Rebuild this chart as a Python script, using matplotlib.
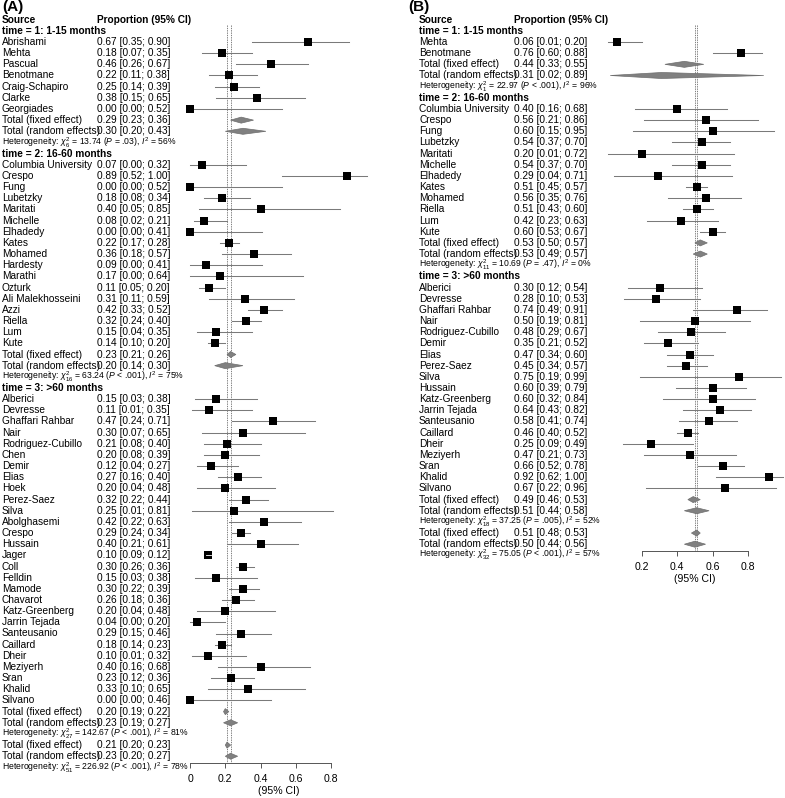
import matplotlib
matplotlib.use("Agg")
import matplotlib.pyplot as plt
from matplotlib.transforms import blended_transform_factory
from matplotlib.patches import Polygon

plt.rcParams['font.family'] = ['Liberation Sans', 'DejaVu Sans']
plt.rcParams['mathtext.fontset'] = 'custom'
plt.rcParams['mathtext.rm'] = 'Liberation Sans'
plt.rcParams['mathtext.it'] = 'Liberation Sans:italic'
plt.rcParams['mathtext.bf'] = 'Liberation Sans:bold'

groups = ["time = 1: 1-15 months", "time = 2: 16-60 months", "time = 3: >60 months"]

# ---- panel A ----
a_names = [
    ["Abrishami", "Mehta", "Pascual", "Benotmane", "Craig-Schapiro", "Clarke", "Georgiades"],
    ["Columbia University", "Crespo", "Fung", "Lubetzky", "Maritati", "Michelle", "Elhadedy",
     "Kates", "Mohamed", "Hardesty", "Marathi", "Ozturk", "Ali Malekhosseini", "Azzi", "Riella",
     "Lum", "Kute"],
    ["Alberici", "Devresse", "Ghaffari Rahbar", "Nair", "Rodriguez-Cubillo", "Chen", "Demir",
     "Elias", "Hoek", "Perez-Saez", "Silva", "Abolghasemi", "Crespo", "Hussain", "Jager", "Coll",
     "Felldin", "Mamode", "Chavarot", "Katz-Greenberg", "Jarrin Tejada", "Santeusanio",
     "Caillard", "Dheir", "Meziyerh", "Sran", "Khalid", "Silvano"],
]
a_est = [
    [0.67, 0.18, 0.46, 0.22, 0.25, 0.38, 0.00],
    [0.07, 0.89, 0.00, 0.18, 0.40, 0.08, 0.00, 0.22, 0.36, 0.09, 0.17, 0.11, 0.31, 0.42, 0.32,
     0.15, 0.14],
    [0.15, 0.11, 0.47, 0.30, 0.21, 0.20, 0.12, 0.27, 0.20, 0.32, 0.25, 0.42, 0.29, 0.40, 0.10,
     0.30, 0.15, 0.30, 0.26, 0.20, 0.04, 0.29, 0.18, 0.10, 0.40, 0.23, 0.33, 0.00],
]
a_lo = [
    [0.35, 0.07, 0.26, 0.11, 0.14, 0.15, 0.00],
    [0.00, 0.52, 0.00, 0.08, 0.05, 0.02, 0.00, 0.17, 0.18, 0.00, 0.00, 0.05, 0.11, 0.33, 0.24,
     0.04, 0.10],
    [0.03, 0.01, 0.24, 0.07, 0.08, 0.08, 0.04, 0.16, 0.04, 0.22, 0.01, 0.22, 0.24, 0.21, 0.09,
     0.26, 0.03, 0.22, 0.18, 0.04, 0.00, 0.15, 0.14, 0.01, 0.16, 0.12, 0.10, 0.00],
]
a_hi = [
    [0.90, 0.35, 0.67, 0.38, 0.39, 0.65, 0.52],
    [0.32, 1.00, 0.52, 0.34, 0.85, 0.21, 0.41, 0.28, 0.57, 0.41, 0.64, 0.20, 0.59, 0.52, 0.40,
     0.35, 0.20],
    [0.38, 0.35, 0.71, 0.65, 0.40, 0.39, 0.27, 0.40, 0.48, 0.44, 0.81, 0.63, 0.34, 0.61, 0.12,
     0.36, 0.38, 0.39, 0.36, 0.48, 0.20, 0.46, 0.23, 0.32, 0.68, 0.36, 0.65, 0.46],
]
# subgroups 1-3, then overall
a_fix = [(0.29, 0.23, 0.36), (0.23, 0.21, 0.26), (0.20, 0.19, 0.22), (0.21, 0.20, 0.23)]
a_ran = [(0.30, 0.20, 0.43), (0.20, 0.14, 0.30), (0.23, 0.19, 0.27), (0.23, 0.20, 0.27)]
a_het_df = [6, 16, 27, 51]
a_het_q = [13.74, 63.24, 142.67, 226.92]
a_het_p = ["= .03", "< .001", "< .001", "< .001"]
a_het_i2 = [56, 75, 81, 78]
a_ticks = [0, 0.2, 0.4, 0.6, 0.8]

# ---- panel B ----
b_names = [
    ["Mehta", "Benotmane"],
    ["Columbia University", "Crespo", "Fung", "Lubetzky", "Maritati", "Michelle", "Elhadedy",
     "Kates", "Mohamed", "Riella", "Lum", "Kute"],
    ["Alberici", "Devresse", "Ghaffari Rahbar", "Nair", "Rodriguez-Cubillo", "Demir", "Elias",
     "Perez-Saez", "Silva", "Hussain", "Katz-Greenberg", "Jarrin Tejada", "Santeusanio",
     "Caillard", "Dheir", "Meziyerh", "Sran", "Khalid", "Silvano"],
]
b_est = [
    [0.06, 0.76],
    [0.40, 0.56, 0.60, 0.54, 0.20, 0.54, 0.29, 0.51, 0.56, 0.51, 0.42, 0.60],
    [0.30, 0.28, 0.74, 0.50, 0.48, 0.35, 0.47, 0.45, 0.75, 0.60, 0.60, 0.64, 0.58, 0.46, 0.25,
     0.47, 0.66, 0.92, 0.67],
]
b_lo = [
    [0.01, 0.60],
    [0.16, 0.21, 0.15, 0.37, 0.01, 0.37, 0.04, 0.45, 0.35, 0.43, 0.23, 0.53],
    [0.12, 0.10, 0.49, 0.19, 0.29, 0.21, 0.34, 0.34, 0.19, 0.39, 0.32, 0.43, 0.41, 0.40, 0.09,
     0.21, 0.52, 0.62, 0.22],
]
b_hi = [
    [0.20, 0.88],
    [0.68, 0.86, 0.95, 0.70, 0.72, 0.70, 0.71, 0.57, 0.76, 0.60, 0.63, 0.67],
    [0.54, 0.53, 0.91, 0.81, 0.67, 0.52, 0.60, 0.57, 0.99, 0.79, 0.84, 0.82, 0.74, 0.52, 0.49,
     0.73, 0.78, 1.00, 0.96],
]
b_fix = [(0.44, 0.33, 0.55), (0.53, 0.50, 0.57), (0.49, 0.46, 0.53), (0.51, 0.48, 0.53)]
b_ran = [(0.31, 0.02, 0.89), (0.53, 0.49, 0.57), (0.51, 0.44, 0.58), (0.50, 0.44, 0.56)]
b_het_df = [1, 11, 18, 32]
b_het_q = [22.97, 10.69, 37.25, 75.05]
b_het_p = ["< .001", "= .47", "= .005", "< .001"]
b_het_i2 = [96, 0, 52, 57]
b_ticks = [0.2, 0.4, 0.6, 0.8]

W, H = 785, 798
ROW0, DY = 19.7, 11.16          # pixel y of header row, row height
FS, FS_HET = 7.3, 6.2
CI_COL = "#7a7a7a"
DIA_COL = "#808080"

fig = plt.figure(figsize=(W / 100, H / 100), dpi=100)


def fmt(e, l, h):
    return f"{e:.2f} [{l:.2f}; {h:.2f}]"


def het_text(df, q, p, i2):
    return (r"Heterogeneity: $\chi^2_{%d}$ = %.2f ($P$ %s), $I^2$ = %d%%" % (df, q, p, i2))


def draw_panel(x0, letter, x_let, x_name, x_val, names, est, lo, hi, fix, ran,
               hdf, hq, hp, hi2, ticks, ov_lines):
    # axes: x from 0 to 1 starting at pixel x0, full figure height
    ax = fig.add_axes([x0 / W, 0, 176.5 / W, 1])
    ax.set_xlim(0, 1)
    ax.set_ylim((H - ROW0) / DY, -ROW0 / DY)
    px_per_unit = 176.5
    tr = blended_transform_factory(fig.transFigure, ax.transData)

    def txt(x, r, s, **kw):
        kw.setdefault("fontsize", FS)
        ax.text(x / W, r, s, transform=tr, va="center", ha="left", **kw)

    def diamond(r, e, l, h):
        ax.add_patch(Polygon([[l, r], [e, r - 0.27], [h, r], [e, r + 0.27]],
                             closed=True, facecolor=DIA_COL, edgecolor="#6e6e6e",
                             lw=0.5, clip_on=False, zorder=3))

    txt(x_let, -1.12, letter, fontsize=11, fontweight="bold")
    txt(x_name, 0, "Source", fontweight="bold")
    txt(x_val, 0, "Proportion (95% CI)", fontweight="bold")

    r = 1
    for g in range(len(groups)):
        txt(x_name, r, groups[g], fontweight="bold")
        r += 1
        for n, e, l, h in zip(names[g], est[g], lo[g], hi[g]):
            txt(x_name, r, n)
            txt(x_val, r, fmt(e, l, h))
            ax.plot([l, h], [r, r], color=CI_COL, lw=0.75, clip_on=False, zorder=2)
            ax.plot(e, r, "s", ms=5.8, color="black", mec="black", mew=0,
                    clip_on=False, zorder=4)
            if (h - l) * px_per_unit < 8:
                ax.plot([l, h], [r, r], color="white", lw=0.6, clip_on=False, zorder=5)
            r += 1
        for lab, vals in (("Total (fixed effect)", fix[g]), ("Total (random effects)", ran[g])):
            txt(x_name, r, lab)
            txt(x_val, r, fmt(*vals))
            diamond(r, *vals)
            r += 1
        txt(x_name, r, het_text(hdf[g], hq[g], hp[g], hi2[g]), fontsize=FS_HET)
        r += 1
    for lab, vals in (("Total (fixed effect)", fix[3]), ("Total (random effects)", ran[3])):
        txt(x_name, r, lab)
        txt(x_val, r, fmt(*vals))
        diamond(r, *vals)
        r += 1
    txt(x_name, r, het_text(hdf[3], hq[3], hp[3], hi2[3]), fontsize=FS_HET)

    axis_row = r - 0.4
    for v in ov_lines:
        ax.plot([v, v], [0.45, axis_row], color="#6a6a6a", lw=0.6,
                ls=(0, (1.6, 1.2)), zorder=1)

    for s in ("top", "left", "right"):
        ax.spines[s].set_visible(False)
    sp = ax.spines["bottom"]
    sp.set_position(("data", axis_row))
    sp.set_bounds(ticks[0], ticks[-1])
    sp.set_color("#555555")
    sp.set_linewidth(0.7)
    ax.set_yticks([])
    ax.set_xticks(ticks)
    ax.set_xticklabels([f"{t:g}" for t in ticks])
    ax.tick_params(axis="x", length=3.6, width=0.7, color="#555555", pad=4.2,
                   labelsize=7.6)
    ax.set_xlabel("(95% CI)", fontsize=7.6, labelpad=1.8)
    ax.patch.set_visible(False)
    return ax


draw_panel(190, "(A)", 2, 2, 97, a_names, a_est, a_lo, a_hi, a_fix, a_ran,
           a_het_df, a_het_q, a_het_p, a_het_i2, a_ticks,
           [a_fix[3][0], a_ran[3][0]])
draw_panel(606.7, "(B)", 408, 419, 514, b_names, b_est, b_lo, b_hi, b_fix, b_ran,
           b_het_df, b_het_q, b_het_p, b_het_i2, b_ticks,
           [b_fix[3][0], b_ran[3][0]])

fig.savefig("out.png", dpi=100)
